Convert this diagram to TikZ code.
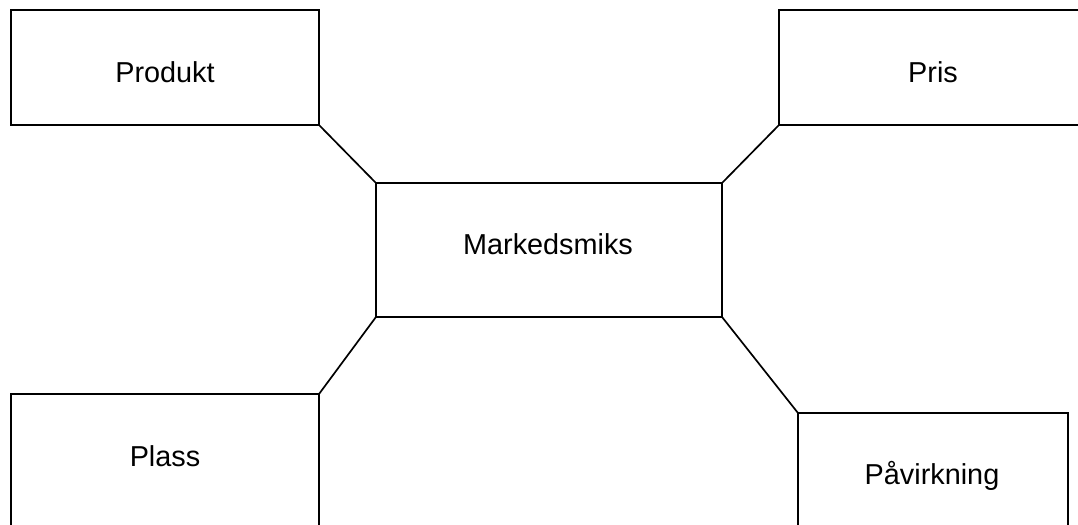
\documentclass[tikz,border=0pt]{standalone}
\usepackage{fontspec}
\setmainfont{Liberation Sans}
\usepackage{tikz}
\usetikzlibrary{positioning}

\begin{document}
\begin{tikzpicture}[
    x = 0.025cm, y = -0.025cm,
    line width = 1.3pt,
    box/.style={rectangle, draw, inner sep=0pt, outer sep=0pt},
    txt/.style={inner sep=0pt, font=\fontsize{20.5}{24}\selectfont},
    link/.style={line width=1.2pt}
]
\useasboundingbox (0,0) rectangle (1078,525);
\clip (0,0) rectangle (1078,525);

% --- The boxes ---
\node[box, minimum width=7.7cm, minimum height=2.875cm] (produkt) at (165,67.5) {};
\node[box, minimum width=7.7cm, minimum height=2.875cm] (pris) at (933,67.5) {};
\node[box, minimum width=8.65cm, minimum height=3.35cm] (miks) at (549,250) {};
\node[box, minimum width=7.7cm, minimum height=3.65cm] (plass) at (165,467) {};
\node[box, minimum width=6.75cm, minimum height=3.3cm] (paavirkning) at (933,479) {};

% --- The texts ---
\node[txt] (produkt-txt) at (165,72) {Produkt};
\node[txt] (pris-txt) at (933,72) {Pris};
\node[txt] (miks-txt) at (548,244) {Markedsmiks};
\node[txt] (plass-txt) at (165,456) {Plass};
\node[txt] (paavirkning-txt) at (932,476) {Påvirkning};

% --- Connectors to the middle box ---
\draw[link] (produkt.south east) -- (miks.north west);
\draw[link] (pris.south west) -- (miks.north east);
\draw[link] (miks.south west) -- (plass.north east);
\draw[link] (miks.south east) -- (paavirkning.north west);

\end{tikzpicture}
\end{document}
